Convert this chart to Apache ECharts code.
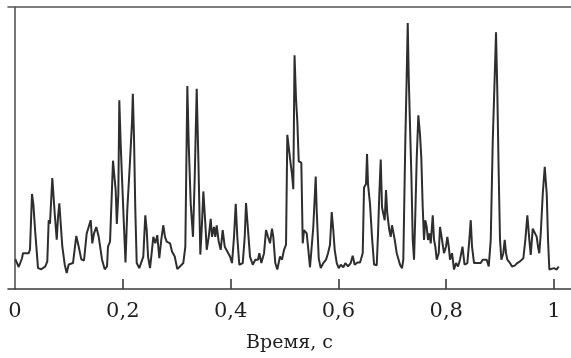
<!DOCTYPE html>
<html>
<head>
<meta charset="utf-8">
<script src="https://cdn.jsdelivr.net/npm/echarts@6/dist/echarts.min.js"></script>
<style>
html,body{margin:0;padding:0;background:#fff;}
#chart{width:571px;height:358px;}
</style>
</head>
<body>
<div id="chart"></div>
<script>
// Time, s
var times = [
0.0006,0.0069,0.0130,0.0148,0.0254,0.0278,0.0315,0.0340,0.0377,0.0427,
0.0488,0.0562,0.0599,0.0625,0.0649,0.0692,0.0737,0.0774,0.0798,0.0822,
0.0848,0.0878,0.0922,0.0959,0.0996,0.1076,0.1137,0.1182,0.1230,0.1280,
0.1330,0.1367,0.1404,0.1434,0.1466,0.1508,0.1553,0.1614,0.1664,0.1707,
0.1725,0.1763,0.1794,0.1818,0.1846,0.1868,0.1889,0.1917,0.1935,0.1961,
0.1985,0.2022,0.2050,0.2083,0.2134,0.2171,0.2186,0.2208,0.2232,0.2258,
0.2306,0.2343,0.2380,0.2417,0.2443,0.2468,0.2505,0.2542,0.2566,0.2603,
0.2640,0.2677,0.2714,0.2751,0.2783,0.2814,0.2876,0.2913,0.2963,0.3011,
0.3061,0.3122,0.3160,0.3197,0.3223,0.3260,0.3302,0.3334,0.3371,0.3401,
0.3419,0.3438,0.3469,0.3494,0.3531,0.3557,0.3594,0.3631,0.3655,0.3692,
0.3716,0.3742,0.3779,0.3816,0.3853,0.3891,0.3928,0.3989,0.4026,0.4063,
0.4095,0.4124,0.4161,0.4225,0.4262,0.4286,0.4323,0.4360,0.4410,0.4458,
0.4508,0.4533,0.4570,0.4620,0.4657,0.4694,0.4731,0.4768,0.4792,0.4829,
0.4866,0.4917,0.4954,0.4991,0.5028,0.5052,0.5084,0.5115,0.5139,0.5163,
0.5186,0.5213,0.5238,0.5264,0.5312,0.5338,0.5362,0.5412,0.5436,0.5473,
0.5510,0.5534,0.5579,0.5597,0.5635,0.5672,0.5720,0.5770,0.5807,0.5844,
0.5876,0.5905,0.5931,0.5969,0.6006,0.6043,0.6091,0.6128,0.6178,0.6228,
0.6265,0.6302,0.6351,0.6401,0.6451,0.6475,0.6512,0.6531,0.6549,0.6586,
0.6623,0.6661,0.6711,0.6735,0.6759,0.6785,0.6809,0.6833,0.6859,0.6883,
0.6907,0.6944,0.6970,0.6994,0.7019,0.7045,0.7082,0.7119,0.7143,0.7180,
0.7204,0.7241,0.7267,0.7286,0.7304,0.7328,0.7353,0.7379,0.7403,0.7427,
0.7453,0.7483,0.7514,0.7538,0.7564,0.7588,0.7612,0.7638,0.7662,0.7687,
0.7713,0.7750,0.7774,0.7798,0.7824,0.7861,0.7885,0.7922,0.7959,0.7996,
0.8021,0.8047,0.8071,0.8108,0.8145,0.8182,0.8219,0.8256,0.8302,0.8340,
0.8392,0.8429,0.8455,0.8479,0.8516,0.8566,0.8603,0.8640,0.8677,0.8714,
0.8751,0.8789,0.8826,0.8863,0.8900,0.8924,0.8948,0.8974,0.8998,0.9023,
0.9060,0.9085,0.9110,0.9134,0.9184,0.9221,0.9271,0.9319,0.9369,0.9431,
0.9468,0.9505,0.9542,0.9568,0.9605,0.9642,0.9679,0.9703,0.9727,0.9754,
0.9791,0.9828,0.9865,0.9889,0.9913,0.9950,1.0000,1.0050,1.0087
];
// Amplitude, arbitrary units
var amplitude = [
10.6,7.8,10.9,12.7,12.7,14.0,33.7,30.2,19.7,7.4,
7.0,8.0,9.8,24.4,23.2,39.3,26.7,17.5,25.5,30.4,
23.2,15.0,8.7,5.7,8.7,9.2,18.8,15.0,10.5,10.1,
19.7,19.7,24.4,16.2,19.7,22.0,18.5,10.5,7.0,8.0,
15.0,16.8,17.5,45.5,39.5,35.0,23.1,33.7,66.9,51.2,
39.5,22.0,9.4,28.0,45.5,59.4,69.2,53.5,28.0,9.2,
7.4,8.0,11.5,26.1,21.0,11.5,7.4,14.0,18.5,16.2,
19.1,10.9,17.5,22.6,18.5,16.8,16.2,13.3,11.5,7.1,
8.0,9.2,15.0,72.0,51.2,30.2,18.5,39.5,71.0,46.5,
30.2,12.2,23.2,34.6,23.2,13.9,18.5,24.9,18.5,22.0,
18.5,22.6,16.8,13.9,20.9,15.0,14.4,11.5,9.2,18.5,
30.2,18.5,8.6,9.2,18.5,30.5,20.9,11.5,8.6,10.4,
10.4,12.7,9.2,12.7,20.9,18.5,16.2,21.4,18.5,9.2,
6.9,11.5,10.4,13.9,15.7,54.7,49.3,44.2,40.7,35.4,
82.9,67.5,59.3,45.3,44.8,16.2,20.9,19.7,15.0,7.7,
8.0,22.0,39.9,27.9,10.8,7.4,9.2,10.4,12.7,15.7,
27.3,20.9,13.9,9.2,7.4,8.6,7.7,9.2,8.0,9.2,
11.8,8.6,9.4,9.4,12.7,36.0,37.2,47.9,37.2,30.2,
18.5,8.7,8.4,19.7,33.7,45.9,29.0,26.7,24.4,35.1,
26.7,20.9,18.5,22.6,22.0,17.4,12.7,12.7,8.6,7.4,
10.4,52.3,75.6,94.3,75.6,58.1,40.7,17.4,10.4,26.7,
46.5,61.6,54.7,46.5,29.0,17.4,24.4,22.0,17.4,19.7,
16.2,26.1,17.4,15.0,10.4,12.7,22.0,17.4,12.7,15.0,
18.5,15.0,10.4,12.7,6.9,9.2,8.0,10.4,15.0,8.6,
9.2,17.4,24.4,15.0,9.2,9.2,9.8,9.2,10.4,9.8,
10.4,8.0,17.4,52.3,75.6,91.0,69.8,40.7,17.4,10.4,
12.7,17.4,12.7,10.4,9.2,8.0,8.3,9.2,9.8,10.9,
17.4,26.1,17.4,12.1,21.4,22.0,18.5,15.0,12.7,19.7,
33.7,43.3,33.7,17.4,6.9,6.3,7.4,6.9,8.0
];
var tickValues = [0.2, 0.4, 0.6, 0.8, 1];
var labelValues = [0, 0.2, 0.4, 0.6, 0.8, 1];
var xAxisName = 'Время, с';

var pts = times.map(function (t, i) { return [t, amplitude[i]]; });
var font = 'DejaVu Serif';
var chart = echarts.init(document.getElementById('chart'), null, {renderer: 'canvas'});
chart.setOption({
  animation: false,
  backgroundColor: '#ffffff',
  grid: {left: 8, right: 0, top: 7, bottom: 65, containLabel: false},
  xAxis: [{
    type: 'value', min: -0.013, max: 1.0315,
    name: xAxisName, nameLocation: 'middle', nameGap: 45,
    nameTextStyle: {fontFamily: font, fontSize: 19, color: '#1e1e1e'},
    axisLine: {show: true, lineStyle: {color: '#3a3a3a', width: 1.6}},
    axisTick: {show: true, inside: true, length: 10, customValues: tickValues,
      lineStyle: {color: '#3a3a3a', width: 1.6}},
    axisLabel: {show: true, customValues: labelValues, margin: 12,
      fontFamily: font, fontSize: 21, color: '#1e1e1e',
      formatter: function (v) { return String(v).replace('.', ','); }},
    splitLine: {show: false}
  }, {
    type: 'value', position: 'top', min: -0.013, max: 1.0315,
    axisLine: {show: true, lineStyle: {color: '#555', width: 1.6}},
    axisTick: {show: false}, axisLabel: {show: false}, splitLine: {show: false}
  }],
  yAxis: {
    type: 'value', min: 0, max: 100,
    axisLine: {show: true, lineStyle: {color: '#555', width: 1.6}},
    axisTick: {show: false}, axisLabel: {show: false}, splitLine: {show: false}
  },
  series: [{
    type: 'line', data: pts, showSymbol: false, smooth: false,
    lineStyle: {color: '#2e2e2e', width: 2},
    clip: false
  }]
});
</script>
</body>
</html>
